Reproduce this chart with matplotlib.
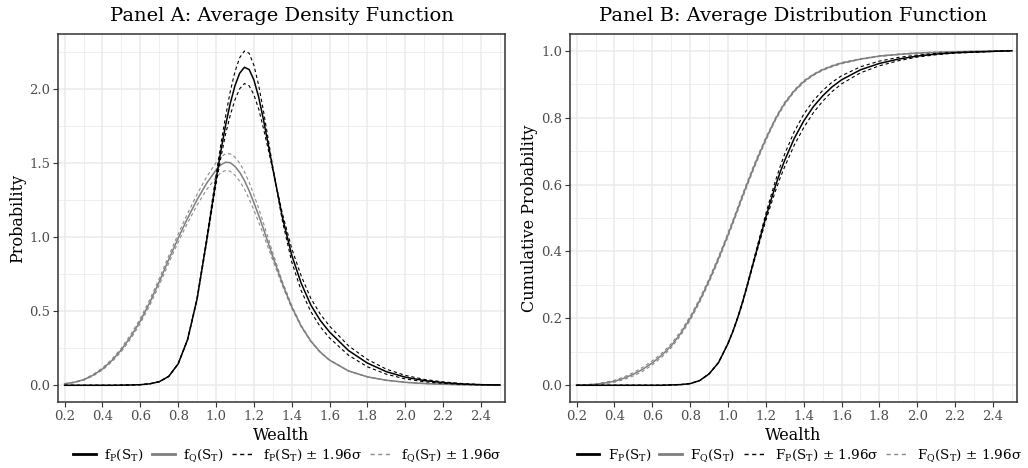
import matplotlib
matplotlib.use("Agg")
import matplotlib.pyplot as plt
from matplotlib.lines import Line2D

# ---------------- data ----------------
wealth = [0.2, 0.25, 0.3, 0.35, 0.4, 0.45, 0.5, 0.55, 0.6, 0.65, 0.7, 0.75, 0.8, 0.85,
          0.9, 0.95, 1.0, 1.025, 1.05, 1.075, 1.1, 1.125, 1.15, 1.175, 1.2, 1.225,
          1.25, 1.275, 1.3, 1.35, 1.4, 1.45, 1.5, 1.55, 1.6, 1.7, 1.8, 1.9, 2.0,
          2.1, 2.2, 2.3, 2.4, 2.5]

# Panel A: densities
f_P = [0, 0, 0, 0, 0, 0, 0.001, 0.002, 0.004, 0.010, 0.024, 0.060, 0.145, 0.31,
       0.585, 0.975, 1.39, 1.58, 1.755, 1.905, 2.025, 2.11, 2.15, 2.135, 2.065, 1.95,
       1.80, 1.635, 1.465, 1.14, 0.88, 0.69, 0.545, 0.44, 0.36, 0.235, 0.15, 0.092, 0.055,
       0.032, 0.018, 0.009, 0.004, 0.002]
f_P_hi = [0, 0, 0, 0, 0, 0, 0.001, 0.002, 0.004, 0.010, 0.024, 0.060, 0.145, 0.31,
          0.59, 0.99, 1.42, 1.625, 1.815, 1.985, 2.12, 2.215, 2.26, 2.245, 2.165, 2.03,
          1.86, 1.67, 1.475, 1.115, 0.835, 0.64, 0.50, 0.397, 0.32, 0.203, 0.125, 0.075, 0.043,
          0.024, 0.013, 0.006, 0.003, 0.001]
f_P_lo = [0, 0, 0, 0, 0, 0, 0.001, 0.002, 0.004, 0.010, 0.024, 0.060, 0.145, 0.31,
          0.58, 0.96, 1.36, 1.535, 1.695, 1.825, 1.93, 2.005, 2.04, 2.025, 1.965, 1.87,
          1.74, 1.60, 1.455, 1.165, 0.925, 0.74, 0.59, 0.483, 0.40, 0.267, 0.175, 0.109, 0.067,
          0.040, 0.023, 0.012, 0.005, 0.003]

f_Q = [0.010, 0.020, 0.037, 0.068, 0.11, 0.168, 0.24, 0.33, 0.435, 0.56, 0.70, 0.85, 0.995, 1.13,
       1.255, 1.365, 1.455, 1.49, 1.508, 1.505, 1.48, 1.44, 1.385, 1.315, 1.235, 1.15,
       1.06, 0.965, 0.87, 0.69, 0.53, 0.40, 0.30, 0.225, 0.17, 0.097, 0.057, 0.034, 0.020,
       0.012, 0.007, 0.004, 0.002, 0.001]
f_Q_hi = [0.011, 0.022, 0.040, 0.073, 0.117, 0.177, 0.252, 0.345, 0.452, 0.58, 0.722, 0.875, 1.022, 1.162,
          1.292, 1.408, 1.505, 1.543, 1.565, 1.565, 1.543, 1.502, 1.445, 1.372, 1.288, 1.197,
          1.10, 0.998, 0.895, 0.705, 0.54, 0.405, 0.303, 0.227, 0.171, 0.097, 0.057, 0.034, 0.020,
          0.012, 0.007, 0.004, 0.002, 0.001]
f_Q_lo = [0.009, 0.018, 0.034, 0.063, 0.103, 0.159, 0.228, 0.315, 0.418, 0.54, 0.678, 0.825, 0.968, 1.098,
          1.218, 1.322, 1.405, 1.437, 1.452, 1.447, 1.42, 1.38, 1.327, 1.26, 1.184, 1.104,
          1.02, 0.932, 0.845, 0.675, 0.52, 0.395, 0.297, 0.223, 0.169, 0.097, 0.057, 0.034, 0.020,
          0.012, 0.007, 0.004, 0.002, 0.001]

# Panel B: distribution functions
F_P = [0, 0, 0, 0, 0, 0, 0, 0, 0, 0, 0.001, 0.002, 0.005, 0.014,
       0.034, 0.068, 0.125, 0.16, 0.20, 0.245, 0.295, 0.348, 0.40, 0.452, 0.503, 0.55,
       0.595, 0.636, 0.673, 0.738, 0.79, 0.832, 0.865, 0.892, 0.913, 0.943, 0.962, 0.975, 0.984,
       0.99, 0.994, 0.996, 0.998, 1.0]
F_P_hi = [0, 0, 0, 0, 0, 0, 0, 0, 0, 0, 0.001, 0.002, 0.005, 0.014,
          0.034, 0.068, 0.126, 0.161, 0.202, 0.248, 0.298, 0.352, 0.406, 0.46, 0.513, 0.563,
          0.61, 0.653, 0.692, 0.758, 0.81, 0.85, 0.881, 0.906, 0.925, 0.952, 0.969, 0.98, 0.987,
          0.992, 0.995, 0.997, 0.998, 1.0]
F_P_lo = [0, 0, 0, 0, 0, 0, 0, 0, 0, 0, 0.001, 0.002, 0.005, 0.014,
          0.034, 0.068, 0.124, 0.159, 0.198, 0.242, 0.292, 0.344, 0.394, 0.444, 0.493, 0.537,
          0.58, 0.619, 0.654, 0.718, 0.77, 0.814, 0.849, 0.878, 0.901, 0.934, 0.955, 0.97, 0.981,
          0.988, 0.993, 0.995, 0.998, 1.0]

F_Q = [0.0, 0.001, 0.003, 0.007, 0.012, 0.021, 0.033, 0.048, 0.067, 0.09, 0.118, 0.155, 0.20, 0.253,
       0.313, 0.379, 0.45, 0.487, 0.525, 0.563, 0.60, 0.636, 0.671, 0.704, 0.736, 0.766,
       0.795, 0.82, 0.843, 0.88, 0.908, 0.928, 0.943, 0.954, 0.963, 0.975, 0.984, 0.989, 0.993,
       0.995, 0.997, 0.998, 0.999, 1.0]
F_Q_hi = [0.0, 0.002, 0.004, 0.009, 0.015, 0.025, 0.038, 0.054, 0.073, 0.096, 0.124, 0.161, 0.206, 0.259,
          0.319, 0.385, 0.456, 0.493, 0.531, 0.569, 0.606, 0.642, 0.677, 0.709, 0.741, 0.770,
          0.799, 0.824, 0.847, 0.883, 0.911, 0.930, 0.945, 0.956, 0.965, 0.976, 0.985, 0.990, 0.994,
          0.996, 0.997, 0.998, 0.999, 1.0]
F_Q_lo = [0.0, 0.0, 0.002, 0.005, 0.009, 0.017, 0.028, 0.042, 0.061, 0.084, 0.112, 0.149, 0.194, 0.247,
          0.307, 0.373, 0.444, 0.481, 0.519, 0.557, 0.594, 0.630, 0.665, 0.699, 0.731, 0.762,
          0.791, 0.816, 0.839, 0.877, 0.905, 0.926, 0.941, 0.952, 0.961, 0.974, 0.983, 0.988, 0.992,
          0.995, 0.997, 0.998, 0.999, 1.0]

x_ticks = [0.2, 0.4, 0.6, 0.8, 1.0, 1.2, 1.4, 1.6, 1.8, 2.0, 2.2, 2.4]
yA_ticks = [0.0, 0.5, 1.0, 1.5, 2.0]
yB_ticks = [0.0, 0.2, 0.4, 0.6, 0.8, 1.0]

titles = ["Panel A: Average Density Function", "Panel B: Average Distribution Function"]
ylabels = ["Probability", "Cumulative Probability"]
legA = [r"$\mathregular{f_P(S_T)}$", r"$\mathregular{f_Q(S_T)}$",
        r"$\mathregular{f_P(S_T)}$ ± 1.96σ", r"$\mathregular{f_Q(S_T)}$ ± 1.96σ"]
legB = [r"$\mathregular{F_P(S_T)}$", r"$\mathregular{F_Q(S_T)}$",
        r"$\mathregular{F_P(S_T)}$ ± 1.96σ", r"$\mathregular{F_Q(S_T)}$ ± 1.96σ"]

# ---------------- style ----------------
plt.rcParams["font.family"] = ["DejaVu Serif"]
plt.rcParams["mathtext.fontset"] = "dejavuserif"

GRID = "#EBEBEB"
FRAME = "#333333"
TICKC = "#4D4D4D"
GREY = "#7F7F7F"
GREY_D = "#8C8C8C"
DASH = (0, (3, 2.5))

fig = plt.figure(figsize=(10.28, 4.68), dpi=100)
axA = fig.add_axes([58/1028, 1-402/468, 447/1028, 368/468])
axB = fig.add_axes([570/1028, 1-402/468, 447/1028, 368/468])

def style(ax, yticks, yminor, ylim, title, ylabel):
    ax.set_xlim(0.165, 2.527)
    ax.set_ylim(*ylim)
    ax.set_xticks(x_ticks)
    ax.set_xticklabels([f"{v:.1f}" for v in x_ticks])
    ax.set_xticks([0.3, 0.5, 0.7, 0.9, 1.1, 1.3, 1.5, 1.7, 1.9, 2.1, 2.3, 2.5], minor=True)
    ax.set_yticks(yticks)
    ax.set_yticklabels([f"{v:.1f}" for v in yticks])
    ax.set_yticks(yminor, minor=True)
    ax.grid(True, which="major", color=GRID, lw=1.1, zorder=0)
    ax.grid(True, which="minor", color=GRID, lw=0.55, zorder=0)
    ax.set_axisbelow(True)
    for s in ax.spines.values():
        s.set_color(FRAME)
        s.set_linewidth(1.1)
    ax.tick_params(which="major", length=3.5, width=0.8, color=FRAME, labelcolor=TICKC,
                   labelsize=9.5, pad=2)
    ax.tick_params(which="minor", length=0)
    ax.set_title(title, fontsize=14, pad=9.5)
    ax.set_xlabel("Wealth", fontsize=11.5, labelpad=3)
    ax.set_ylabel(ylabel, fontsize=11.5, labelpad=2.5)

style(axA, yA_ticks, [0.25, 0.75, 1.25, 1.75, 2.25], (-0.113, 2.375), titles[0], ylabels[0])
style(axB, yB_ticks, [0.1, 0.3, 0.5, 0.7, 0.9], (-0.05, 1.05), titles[1], ylabels[1])

def draw(ax, p, p_hi, p_lo, q, q_hi, q_lo, labels):
    ax.plot(wealth, q_hi, color=GREY_D, lw=0.8, ls=DASH, zorder=3)
    ax.plot(wealth, q_lo, color=GREY_D, lw=0.8, ls=DASH, zorder=3)
    ax.plot(wealth, q, color=GREY, lw=1.1, zorder=4)
    ax.plot(wealth, p_hi, color="black", lw=0.8, ls=DASH, zorder=5)
    ax.plot(wealth, p_lo, color="black", lw=0.8, ls=DASH, zorder=5)
    ax.plot(wealth, p, color="black", lw=1.1, zorder=6)
    handles = [Line2D([], [], color="black", lw=2.0),
               Line2D([], [], color=GREY, lw=2.0),
               Line2D([], [], color="black", lw=1.0, ls=DASH),
               Line2D([], [], color=GREY_D, lw=1.0, ls=DASH)]
    ax.legend(handles, labels, loc="center", bbox_to_anchor=(0.513, -0.145), ncol=4,
              frameon=False, fontsize=9.7, handlelength=1.7, handletextpad=0.6,
              columnspacing=0.6, borderaxespad=0, borderpad=0)

draw(axA, f_P, f_P_hi, f_P_lo, f_Q, f_Q_hi, f_Q_lo, legA)
draw(axB, F_P, F_P_hi, F_P_lo, F_Q, F_Q_hi, F_Q_lo, legB)

fig.savefig("out.png", dpi=100)
